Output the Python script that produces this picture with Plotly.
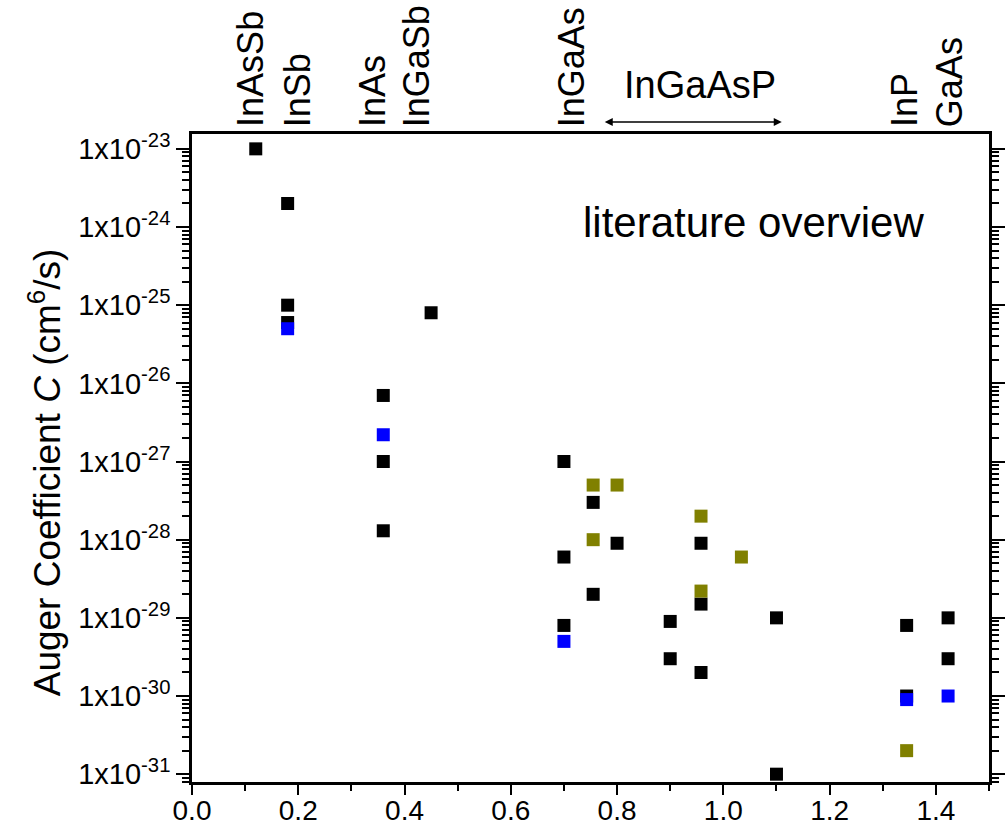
import plotly.graph_objects as go

# ---- data (band gap in eV, Auger coefficient C in cm^6/s) ----
black_x = [0.12, 0.18, 0.18, 0.18, 0.45, 0.36, 0.36, 0.36,
           0.70, 0.70, 0.70, 0.755, 0.755, 0.80, 0.90, 0.90,
           0.958, 0.958, 0.958, 1.10, 1.10, 1.345, 1.345, 1.423, 1.423]
black_y = [1e-23, 2e-24, 1e-25, 6e-26, 8e-26, 7e-27, 1e-27, 1.3e-28,
           1e-27, 6e-29, 8e-30, 3e-28, 2e-29, 9e-29, 9e-30, 3e-30,
           9e-29, 1.5e-29, 2e-30, 1e-29, 1e-31, 8e-30, 1e-30, 1e-29, 3e-30]

blue_x = [0.18, 0.36, 0.70, 1.345, 1.423]
blue_y = [5e-26, 2.2e-27, 5e-30, 9e-31, 1e-30]

olive_x = [0.755, 0.755, 0.80, 0.958, 0.958, 1.034, 1.345]
olive_y = [5e-28, 1e-28, 5e-28, 2e-28, 2.2e-29, 6e-29, 2e-31]

material_names = ["InAsSb", "InSb", "InAs", "InGaSb", "InGaAs", "InP", "GaAs"]
material_x = [0.109, 0.198, 0.339, 0.422, 0.714, 1.340, 1.425]

decades = list(range(-31, -22))
y_tickvals = [10.0 ** d for d in decades]
y_ticktext = ["1x10<sup>%d</sup>" % d for d in decades]
y_minor = [k * 10.0 ** d for d in range(-32, -22) for k in range(2, 10)]

FONT = "Liberation Sans, Arial, sans-serif"

fig = go.Figure()
for xs, ys, col in [(black_x, black_y, "#000000"),
                    (blue_x, blue_y, "#0000FF"),
                    (olive_x, olive_y, "#808000")]:
    fig.add_trace(go.Scatter(
        x=xs, y=ys, mode="markers",
        marker=dict(symbol="square", size=13, color=col, line=dict(width=0)),
        showlegend=False, hoverinfo="x+y"))

fig.update_layout(
    width=1007, height=830,
    margin=dict(l=192, r=18, t=134, b=48),
    paper_bgcolor="white", plot_bgcolor="white",
    font=dict(family=FONT, color="black"),
)

fig.update_xaxes(
    range=[0, 1.5], tick0=0, dtick=0.2, tickformat=".1f",
    showgrid=False, zeroline=False, automargin=False,
    showline=True, linecolor="black", linewidth=2.5, mirror=True,
    ticks="outside", ticklen=10, tickwidth=2, tickcolor="black",
    tickfont=dict(size=28, family=FONT), ticklabelstandoff=-8,
    minor=dict(ticks="outside", ticklen=6, tickwidth=2, dtick=0.1,
               tickcolor="black", showgrid=False),
)

fig.update_yaxes(
    type="log", range=[-31.10, -22.81],
    tickmode="array", tickvals=y_tickvals, ticktext=y_ticktext,
    showgrid=False, zeroline=False, automargin=False,
    showline=True, linecolor="black", linewidth=2.5, mirror="allticks",
    ticks="outside", ticklen=13, tickwidth=2, tickcolor="black",
    tickfont=dict(size=29, family=FONT),
    minor=dict(tickmode="array", tickvals=y_minor, ticks="outside",
               ticklen=7, tickwidth=2, tickcolor="black", showgrid=False),
)

# y-axis title as a rotated annotation
fig.add_annotation(x=-0.1844, xref="paper", y=0.478, yref="paper",
                   text="Auger Coefficient <i>C</i> (cm<sup>6</sup>/s)",
                   textangle=-90, showarrow=False,
                   xanchor="center", yanchor="middle",
                   font=dict(size=37, family=FONT, color="black"))

# material labels above the frame
for name, xv in zip(material_names, material_x):
    fig.add_annotation(x=xv, xref="x", y=1, yref="paper",
                       text=name, textangle=-90, showarrow=False,
                       xanchor="center", yanchor="bottom", yshift=5,
                       font=dict(size=36, family=FONT, color="black"))

# InGaAsP range arrow
fig.add_annotation(x=1.11, xref="x", y=1.0185, yref="paper",
                   ax=0.774, axref="x", ay=0, ayref="pixel",
                   text="", showarrow=True, arrowside="end+start",
                   arrowhead=2, arrowsize=1, arrowwidth=1.6, arrowcolor="black")
fig.add_annotation(x=0.957, xref="x", y=1.0756, yref="paper",
                   text="InGaAsP", showarrow=False,
                   xanchor="center", yanchor="middle",
                   font=dict(size=38, family=FONT, color="black"))

fig.add_annotation(x=1.057, xref="x", y=0.864, yref="paper",
                   text="literature overview", showarrow=False,
                   xanchor="center", yanchor="middle",
                   font=dict(size=42, family=FONT, color="black"))

fig.write_html("out.html")
